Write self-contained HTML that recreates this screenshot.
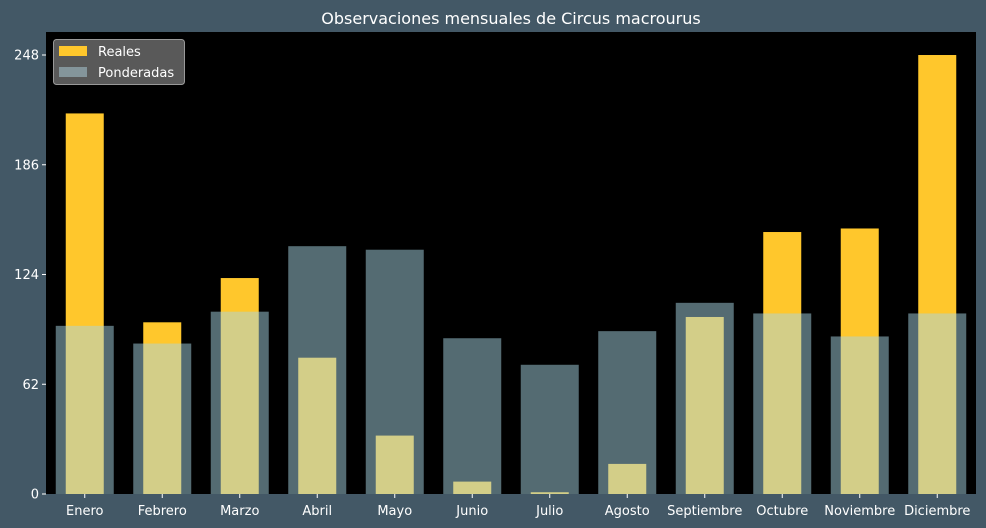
<!DOCTYPE html>
<html><head><meta charset="utf-8"><style>
body{margin:0;background:#435866;}
svg{display:block;font-family:"DejaVu Sans","Liberation Sans",sans-serif;}
</style></head><body>
<svg id="chart" width="986" height="528">
<rect x="0" y="0" width="986" height="528" fill="#435866"/>
<text x="511" y="24" text-anchor="middle" font-size="16" fill="#ffffff">Observaciones mensuales de Circus macrourus</text>
<rect x="46" y="32" width="930" height="462" fill="#000000"/>
<g id="bars"></g>
<g id="axes"></g>
<g>
<rect x="53.5" y="39.5" width="131" height="45" rx="3" fill="#595959" stroke="#999" stroke-width="1"/>
<rect x="59" y="46" width="28" height="10" fill="#ffc72c"/>
<text x="98" y="56" font-size="13" fill="#fff">Reales</text>
<rect x="59" y="67" width="28" height="10" fill="#84959b"/>
<text x="98" y="77" font-size="13" fill="#fff">Ponderadas</text>
</g>
</svg>
<script>
const months = ["Enero","Febrero","Marzo","Abril","Mayo","Junio","Julio","Agosto","Septiembre","Octubre","Noviembre","Diciembre"];
const reales = [215,97,122,77,33,7,1,17,100,148,150,248];
const ponderadas = [95,85,103,140,138,88,73,92,108,102,89,102];
const yTicks = [0,62,124,186,248];

const NS="http://www.w3.org/2000/svg";
const x0=46, x1=976, y0=494, yTop=32, yMax=261;
const step=(x1-x0)/months.length;
function xC(i){return x0+step*(i+0.5);}
function yS(v){return y0-(v/yMax)*(y0-yTop);}
const bars=document.getElementById('bars'), axes=document.getElementById('axes');
function mk(tag,attrs,parent){const e=document.createElementNS(NS,tag);for(const k in attrs)e.setAttribute(k,attrs[k]);parent.appendChild(e);return e;}
reales.forEach((v,i)=>{
  const r=mk('rect',{x:xC(i)-19,y:yS(v),width:38,height:y0-yS(v),fill:'#ffc72c'},bars);
  
  
});
ponderadas.forEach((v,i)=>{
  const r=mk('rect',{x:xC(i)-29,y:yS(v),width:58,height:y0-yS(v),fill:'rgb(168,214,228)','fill-opacity':0.5},bars);
  
  
});
yTicks.forEach(t=>{
  const y=yS(t);
  const l=mk('line',{x1:x0-4,x2:x0,y1:y,y2:y,stroke:'#fff'},axes);
  
  
  const tx=mk('text',{x:x0-7,y:y+4.5,'text-anchor':'end','font-size':13,fill:'#fff'},axes);
  tx.textContent=t;
  
  
});
months.forEach((m,i)=>{
  const l=mk('line',{x1:xC(i),x2:xC(i),y1:y0,y2:y0+4,stroke:'#fff'},axes);
  
  
  const tx=mk('text',{x:xC(i),y:y0+21,'text-anchor':'middle','font-size':13,fill:'#fff'},axes);
  tx.textContent=m;
  
  
});
</script>
</body></html>
